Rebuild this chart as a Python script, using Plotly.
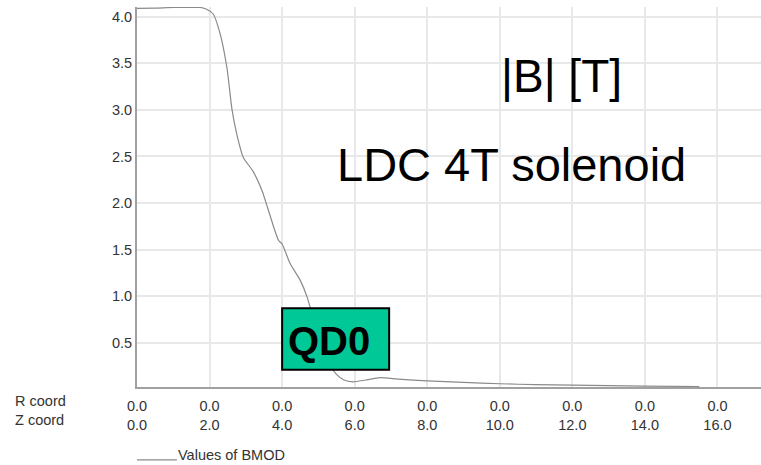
import plotly.graph_objects as go

# Field magnitude along the beam axis (R = 0) versus Z
z_coord = [0.0, 0.5, 1.0, 1.5, 1.75, 1.92, 2.1, 2.29, 2.48, 2.62, 2.75, 2.93,
           3.2, 3.45, 3.6, 3.9, 4.0, 4.22, 4.5, 4.69, 4.9, 5.1, 5.3, 5.5,
           5.7, 5.96, 6.3, 6.7, 7.2, 8.0, 9.0, 10.0, 11.0, 12.0, 13.0, 14.0, 15.5]
bmod = [4.09, 4.093, 4.10, 4.10, 4.10, 4.08, 4.03, 3.82, 3.45, 3.0, 2.74, 2.49,
        2.34, 2.13, 1.95, 1.6, 1.56, 1.35, 1.17, 0.99, 0.70, 0.45, 0.27, 0.16,
        0.10, 0.08, 0.10, 0.125, 0.11, 0.09, 0.075, 0.06, 0.05, 0.045, 0.04, 0.035, 0.03]

tick_vals = [0, 2, 4, 6, 8, 10, 12, 14, 16]
r_labels = ["0.0"] * len(tick_vals)
z_labels = ["0.0", "2.0", "4.0", "6.0", "8.0", "10.0", "12.0", "14.0", "16.0"]
y_ticks = [0.5, 1.0, 1.5, 2.0, 2.5, 3.0, 3.5, 4.0]
series_name = "Values of BMOD"

FONT = "Liberation Sans, Arial, sans-serif"
X_TICK_FONT = dict(family=FONT, size=14.5, color="#333333")
Y_TICK_FONT = dict(family=FONT, size=14.5, color="#333333")
CURVE_COLOR = "#8a8a8a"

fig = go.Figure()
fig.add_trace(go.Scatter(
    x=z_coord, y=bmod, mode="lines", name=series_name, showlegend=False,
    line=dict(color=CURVE_COLOR, width=1.2, shape="spline", smoothing=0.6),
))

# QD0 quadrupole marker
fig.add_shape(type="rect", xref="x", yref="y", x0=4.0, x1=6.95, y0=0.21, y1=0.87,
              fillcolor="#00c896", line=dict(color="black", width=2), layer="above")
fig.add_annotation(x=4.1, y=0.52, xref="x", yref="y", text="<b>QD0</b>",
                   showarrow=False, xanchor="left", yanchor="middle",
                   font=dict(family=FONT, size=40, color="black"))

fig.add_annotation(x=11.7, y=3.36, xref="x", yref="y", text="|B| [T]",
                   showarrow=False, font=dict(family=FONT, size=46, color="black"))
fig.add_annotation(x=10.32, y=2.41, xref="x", yref="y", text="LDC 4T solenoid",
                   showarrow=False, font=dict(family=FONT, size=47, color="black"))

# Row labels for the two-line coordinate ticks
fig.add_annotation(x=-0.199, y=-0.01, xref="paper", yref="paper",
                   text="R coord<br>Z coord", showarrow=False, align="left",
                   xanchor="left", yanchor="top",
                   font=X_TICK_FONT)

# Series key below the axis: short line sample followed by the series name
fig.add_shape(type="line", xref="paper", yref="paper", x0=0.0, x1=0.064,
              y0=-0.192, y1=-0.192, line=dict(color=CURVE_COLOR, width=1.2))
fig.add_annotation(x=0.063, y=-0.179, xref="paper", yref="paper",
                   text=series_name, showarrow=False, xanchor="left",
                   yanchor="middle", font=dict(family=FONT, size=14.5, color="#333333"))

fig.update_xaxes(
    range=[0, 17.2], tickvals=tick_vals,
    ticktext=[f"{r}<br>{zl}" for r, zl in zip(r_labels, z_labels)],
    showgrid=True, gridcolor="#e8e8e8", gridwidth=1.5,
    showline=True, linecolor="#a0a0a0", linewidth=2,
    ticks="", ticklabelstandoff=5, zeroline=False, automargin=False,
    tickfont=X_TICK_FONT,
)
fig.update_yaxes(
    range=[0.025, 4.105], tickvals=y_ticks,
    ticktext=[f"{v:.1f}" for v in y_ticks],
    showgrid=True, gridcolor="#e8e8e8", gridwidth=1.5,
    showline=True, linecolor="#a0a0a0", linewidth=2,
    ticks="", ticklabelstandoff=0, zeroline=False, automargin=False,
    tickfont=Y_TICK_FONT,
)

fig.update_layout(
    width=761, height=465,
    margin=dict(l=137, r=0, t=7, b=78, autoexpand=False),
    plot_bgcolor="white", paper_bgcolor="white",
    showlegend=False,
)

fig.write_html("out.html")
